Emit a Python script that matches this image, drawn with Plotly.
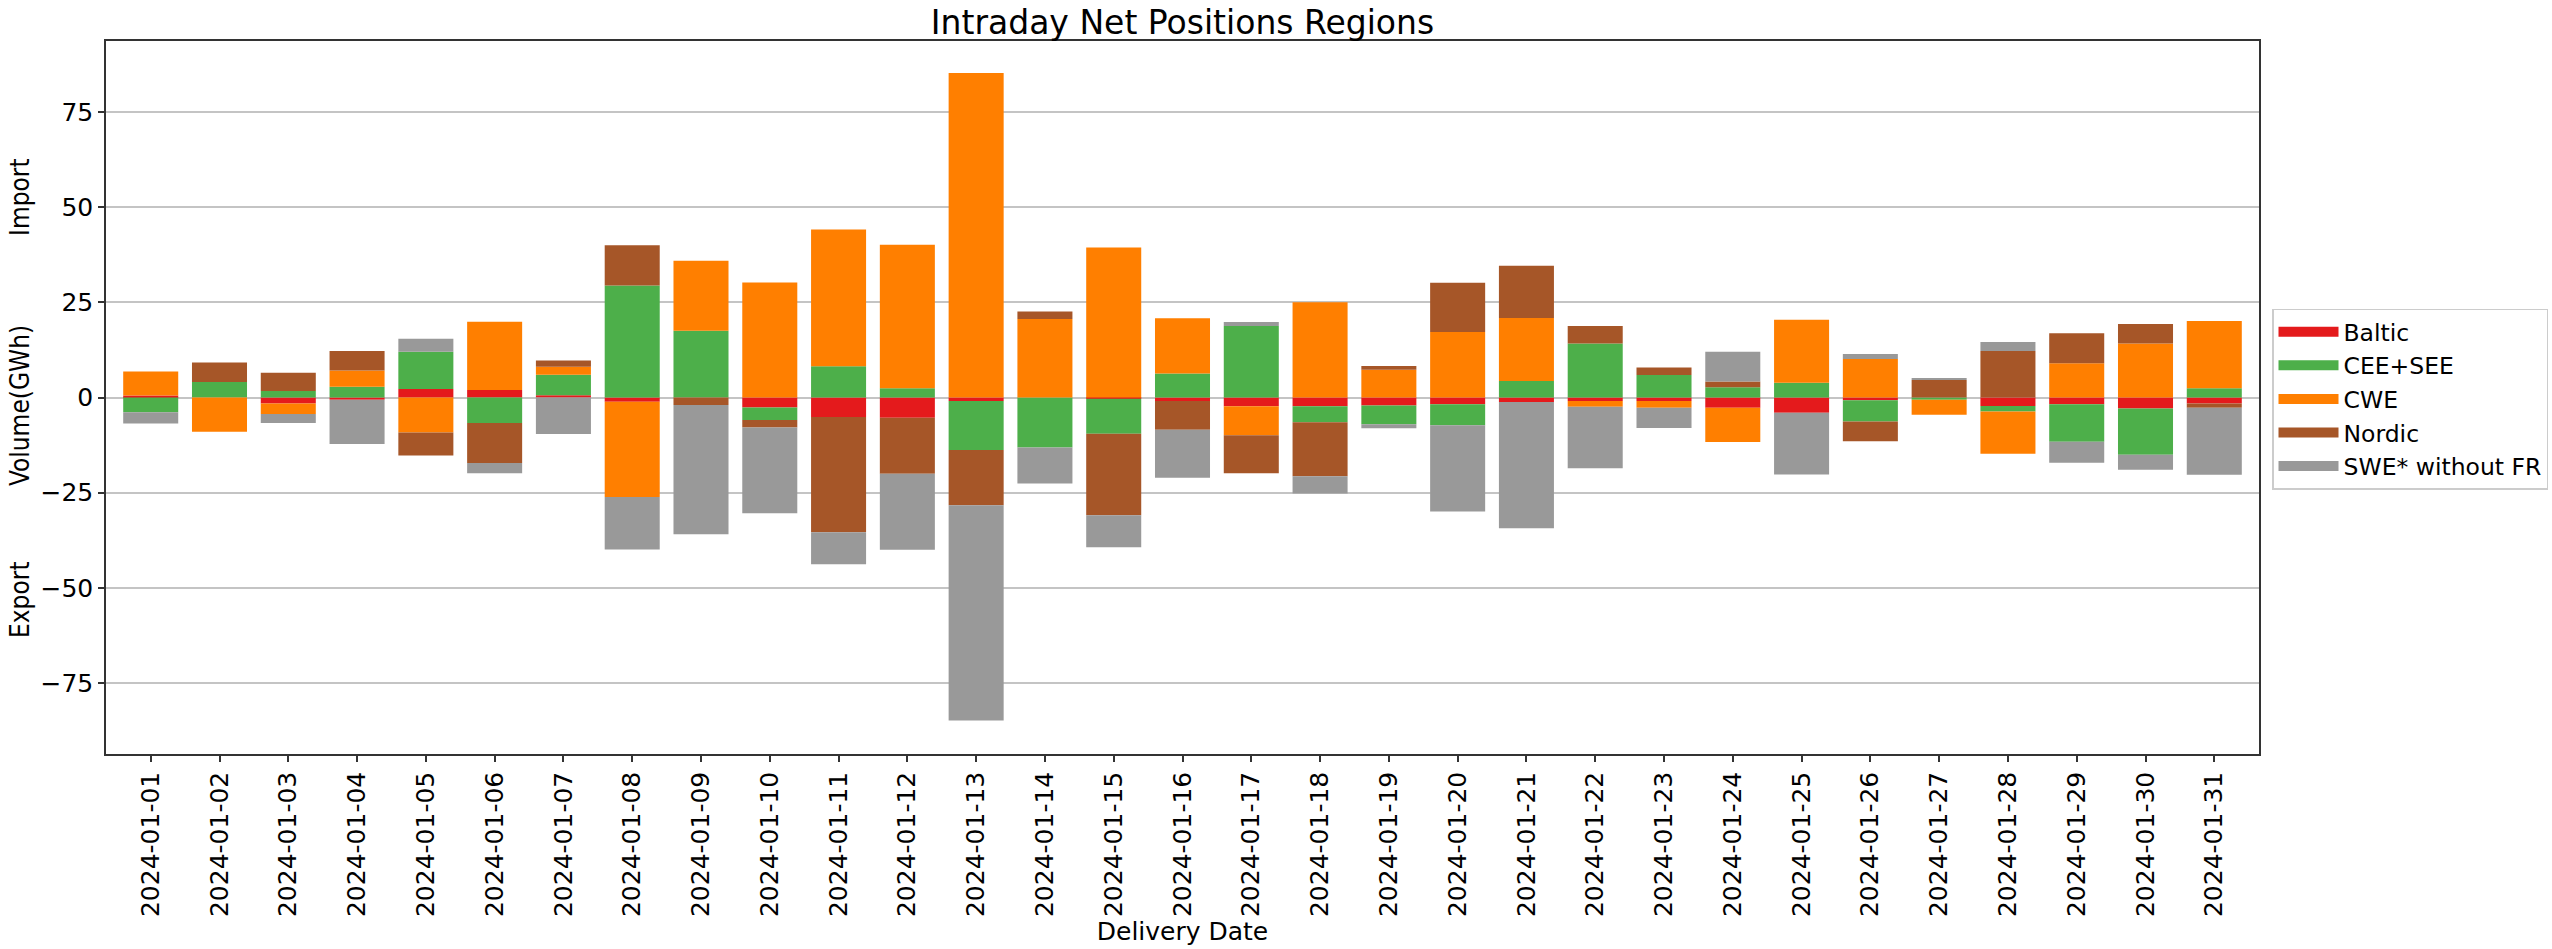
import plotly.graph_objects as go

dates = ["2024-01-01", "2024-01-02", "2024-01-03", "2024-01-04", "2024-01-05",
         "2024-01-06", "2024-01-07", "2024-01-08", "2024-01-09", "2024-01-10",
         "2024-01-11", "2024-01-12", "2024-01-13", "2024-01-14", "2024-01-15",
         "2024-01-16", "2024-01-17", "2024-01-18", "2024-01-19", "2024-01-20",
         "2024-01-21", "2024-01-22", "2024-01-23", "2024-01-24", "2024-01-25",
         "2024-01-26", "2024-01-27", "2024-01-28", "2024-01-29", "2024-01-30",
         "2024-01-31"]

baltic = [0.5, 0, -1.6, -0.6, 2.2, 2.0, 0.6, -1.1, 0, -2.6, -5.1, -5.3, -0.9, 0, -0.3,
          -0.9, -2.3, -2.3, -2.1, -1.8, -1.2, -0.9, -0.9, -2.7, -4.0, -0.7, 0, -2.2,
          -1.8, -2.9, -1.6]
cee_see = [-3.9, 4.1, 1.7, 2.8, 9.8, -6.7, 5.4, 29.4, 17.5, -3.3, 8.2, 2.4, -12.9, -13.1,
           -9.2, 6.3, 18.8, -4.2, -4.9, -5.5, 4.3, 14.2, 5.9, 2.7, 3.9, -5.6, -0.6, -1.5,
           -9.8, -12.1, 2.4]
cwe = [6.3, -9.0, -2.7, 4.3, -9.2, 17.9, 2.1, -25.0, 18.4, 30.2, 35.9, 37.7, 85.2, 20.6,
       39.4, 14.5, -7.6, 25.0, 7.3, 17.2, 16.6, -1.5, -1.8, -9.0, 16.5, 10.1, -3.9, -11.1,
       9.0, 14.2, 17.7]
nordic = [0, 5.1, 4.8, 5.1, -6.0, -10.5, 1.6, 10.6, -2.0, -2.0, -30.3, -14.7, -14.5, 2.0,
          -21.4, -7.6, -10.0, -14.2, 1.0, 12.9, 13.7, 4.6, 2.0, 1.5, 0, -5.2, 4.6, 12.2,
          7.9, 5.1, -1.1]
swe = [-2.9, 0, -2.4, -11.6, 3.4, -2.7, -9.6, -13.8, -33.9, -22.5, -8.4, -20.0, -56.5,
       -9.5, -8.4, -12.6, 1.0, -4.5, -1.1, -22.6, -33.1, -16.2, -5.3, 7.8, -16.2, 1.3, 0.3,
       2.4, -5.5, -4.0, -17.6]

series = [
    ("Baltic", baltic, "#e41a1c"),
    ("CEE+SEE", cee_see, "#4daf4a"),
    ("CWE", cwe, "#ff7f00"),
    ("Nordic", nordic, "#a65628"),
    ("SWE* without FR", swe, "#999999"),
]

ytick_vals = [-75, -50, -25, 0, 25, 50, 75]
ytick_text = ["\u221275", "\u221250", "\u221225", "0", "25", "50", "75"]

fig = go.Figure()
for name, vals, color in series:
    fig.add_trace(go.Bar(x=dates, y=vals, name=name, legendgroup=name, showlegend=False,
                         marker=dict(color=color, line=dict(width=0))))
# legend keys drawn as wide colour patches, like the reference legend
for name, vals, color in series:
    fig.add_trace(go.Scatter(x=[None], y=[None], mode="lines", name=name,
                             legendgroup=name, showlegend=True, hoverinfo="skip",
                             line=dict(color=color, width=16)))

FONT = "DejaVu Sans"
W, H = 2552, 949
L, R, T, B = 106, 293, 41, 195
pw = W - L - R
ph = H - T - B

fig.update_layout(
    width=W, height=H, autosize=False,
    margin=dict(l=L, r=R, t=T, b=B, pad=0, autoexpand=False),
    barmode="relative", bargap=0.2,
    paper_bgcolor="white", plot_bgcolor="white",
    font=dict(family=FONT, color="black", size=25),
    title=dict(text="Intraday Net Positions Regions", x=0.5, xref="paper",
               xanchor="center", y=1 - 22 / H, yref="container", yanchor="middle",
               font=dict(family=FONT, size=33, color="black")),
    legend=dict(x=(2272 - L) / pw, xanchor="left", y=(H - B - 399) / ph, yanchor="middle",
                bgcolor="white", bordercolor="#cccccc", borderwidth=1.5,
                font=dict(family=FONT, size=23.5, color="black"),
                itemwidth=60, tracegroupgap=3, traceorder="normal"),
    showlegend=True,
)

fig.update_xaxes(
    type="category", range=[-0.65, 30.65], tickangle=-90, automargin=False,
    tickfont=dict(family=FONT, size=25, color="black"),
    ticks="outside", ticklen=6, tickwidth=1.5, tickcolor="#333333",
    showline=True, mirror=True, linecolor="#333333", linewidth=1.5,
    showgrid=False,
    title=dict(text="Delivery Date", font=dict(family=FONT, size=25, color="black"),
               standoff=0),
)
fig.update_yaxes(
    range=[-93.6, 93.6], tickvals=ytick_vals, ticktext=ytick_text, automargin=False,
    tickfont=dict(family=FONT, size=25, color="black"),
    ticks="outside", ticklen=6, tickwidth=1.5, tickcolor="#333333",
    showline=True, mirror=True, linecolor="#333333", linewidth=1.5,
    showgrid=True, gridcolor="#c4c4c4", gridwidth=1.5,
    zeroline=True, zerolinecolor="#c4c4c4", zerolinewidth=1.5,
)

lab_font = dict(family="Liberation Sans Narrow, DejaVu Sans Condensed, Liberation Sans",
                size=26, color="black")
for text, ypix in [("Import", 197), ("Volume(GWh)", 406), ("Export", 600)]:
    fig.add_annotation(text=text, xref="paper", yref="paper",
                       x=(20 - L) / pw, y=(H - B - ypix) / ph,
                       xanchor="center", yanchor="middle", textangle=-90,
                       showarrow=False, font=lab_font)

fig.write_html("out.html", config={"displayModeBar": False},
               post_script="document.body.style.margin='0';document.body.style.overflow='hidden';")
